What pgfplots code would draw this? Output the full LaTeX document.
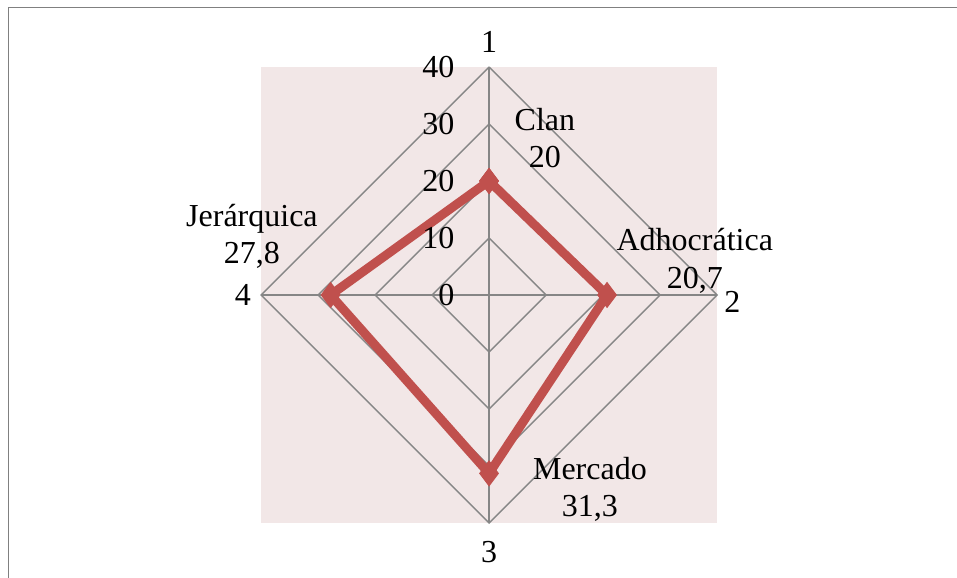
\documentclass[border=0pt]{standalone}
\usepackage{pgfplots}
\pgfplotsset{compat=1.18}
\usepackage{fontspec}
\setmainfont{Liberation Serif}
\definecolor{pinkbg}{RGB}{242,231,231}
\definecolor{gridg}{RGB}{134,134,134}
\definecolor{redl}{RGB}{192,80,77}
\definecolor{framec}{RGB}{128,128,128}
\newcommand{\lf}{\fontsize{16}{18.8}\selectfont}
\begin{document}
\begin{tikzpicture}
\begin{axis}[name=ax,
  scale only axis, width=478.5pt, height=289pt,
  xmin=-85.8, xmax=82.1, ymin=-49.65, ymax=51.75,
  hide axis, clip=false,
]
% background square
\addplot[fill=pinkbg, draw=none] coordinates {(-40,-40) (40,-40) (40,40) (-40,40)} -- cycle;
% frame
\draw[framec, line width=0.8pt] (axis cs:-84.3,-49.65) -- (axis cs:-84.3,50.4) -- (axis cs:82.1,50.4);
% grid diamonds
\addplot[gridg, line width=0.7pt] coordinates {(0,10) (10,0) (0,-10) (-10,0) (0,10)};
\addplot[gridg, line width=0.7pt] coordinates {(0,20) (20,0) (0,-20) (-20,0) (0,20)};
\addplot[gridg, line width=0.7pt] coordinates {(0,30) (30,0) (0,-30) (-30,0) (0,30)};
\addplot[gridg, line width=0.7pt] coordinates {(0,40) (40,0) (0,-40) (-40,0) (0,40)};
% spokes
\addplot[gridg, line width=0.7pt] coordinates {(0,-40) (0,40)};
\addplot[gridg, line width=0.7pt] coordinates {(-40,0) (40,0)};
% data
\addplot[redl, line width=4.5pt, line join=miter, mark=diamond*, mark size=6.2pt,
  mark options={fill=redl, line width=0.5pt}]
  coordinates {(0,20) (20.7,0) (0,-31.3) (-27.8,0) (0,20)};
% tick labels
\node[anchor=east, inner sep=0pt, font=\lf] at (axis cs:-6,40) {40};
\node[anchor=east, inner sep=0pt, font=\lf] at (axis cs:-6,30) {30};
\node[anchor=east, inner sep=0pt, font=\lf] at (axis cs:-6,20) {20};
\node[anchor=east, inner sep=0pt, font=\lf] at (axis cs:-6,10) {10};
\node[anchor=east, inner sep=0pt, font=\lf] at (axis cs:-6,0) {0};
% category labels
\node[inner sep=0pt, font=\lf] at (axis cs:0,44.4) {1};
\node[anchor=west, inner sep=0pt, font=\lf] at (axis cs:41.2,-1.2) {2};
\node[inner sep=0pt, font=\lf] at (axis cs:0,-45.1) {3};
\node[anchor=east, inner sep=0pt, font=\lf] at (axis cs:-41.7,0) {4};
% data labels
\node[align=center, inner sep=0pt, font=\lf] at (axis cs:9.8,27.5) {Clan\\20};
\node[align=center, inner sep=0pt, font=\lf] at (axis cs:36.1,6.0) {Adhocrática\\20,7};
\node[align=center, inner sep=0pt, font=\lf] at (axis cs:17.7,-34.1) {Mercado\\31,3};
\node[align=center, inner sep=0pt, font=\lf] at (axis cs:-41.6,10.3) {Jerárquica\\27,8};
\end{axis}
\pgfresetboundingbox
\path (ax.south west) rectangle (ax.north east);
\end{tikzpicture}
\end{document}
